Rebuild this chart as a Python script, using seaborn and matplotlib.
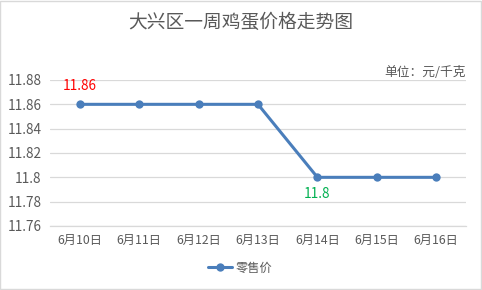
import matplotlib
matplotlib.use("Agg")
import matplotlib.pyplot as plt
import seaborn as sns
import pandas as pd
from matplotlib.lines import Line2D
from matplotlib.patches import Rectangle

categories = ["6月10日", "6月11日", "6月12日", "6月13日", "6月14日", "6月15日", "6月16日"]
prices = [11.86, 11.86, 11.86, 11.86, 11.80, 11.80, 11.80]
y_ticks = [11.76, 11.78, 11.80, 11.82, 11.84, 11.86, 11.88]
y_tick_labels = ["11.76", "11.78", "11.8", "11.82", "11.84", "11.86", "11.88"]
series_name = "零售价"
title = "大兴区一周鸡蛋价格走势图"
unit = "单位：元/千克"

sns.set_theme(style="white")
plt.rcParams["font.family"] = ["Noto Sans CJK SC", "DejaVu Sans"]

line_color = "#4A7EBB"
text_color = "#595959"
grid_color = "#D9D9D9"

df = pd.DataFrame({"date": categories, "price": prices})

fig = plt.figure(figsize=(4.82, 2.90), dpi=100)
ax = fig.add_axes([50 / 482, 1 - 226 / 290, 416 / 482, 146 / 290])

sns.lineplot(data=df, x="date", y="price", ax=ax, color=line_color, linewidth=2.2,
             marker="o", markersize=6, markeredgewidth=0, sort=False)

ax.set_xlim(-0.5, len(categories) - 0.5)
ax.set_ylim(y_ticks[0], y_ticks[-1])
ax.set_yticks(y_ticks)
ax.set_yticklabels(y_tick_labels)
ax.set_xticks(range(len(categories)))
ax.set_xticklabels(categories)
ax.set_xticks([i - 0.5 for i in range(len(categories) + 1)], minor=True)
ax.tick_params(axis="x", which="major", length=0, pad=6, labelsize=8.8, colors=text_color)
ax.tick_params(axis="x", which="minor", length=4, width=0.8, color=grid_color, direction="out")
ax.tick_params(axis="y", length=0, pad=6, labelsize=9.8, colors=text_color)
ax.set_xlabel("")
ax.set_ylabel("")
ax.grid(axis="y", color=grid_color, linewidth=0.9)
ax.set_axisbelow(True)
for s in ["left", "right", "top"]:
    ax.spines[s].set_visible(False)
ax.spines["bottom"].set_color(grid_color)
ax.spines["bottom"].set_linewidth(0.9)

ax.annotate(f"{prices[0]:g}", (0, prices[0]), xytext=(0, 13), textcoords="offset points",
            ha="center", va="center", color="#FF0000", fontsize=9.8)
ax.annotate(f"{prices[4]:g}", (4, prices[4]), xytext=(0, -12), textcoords="offset points",
            ha="center", va="center", color="#00B050", fontsize=9.8)

fig.text(0.5, 1 - 22 / 290, title, ha="center", va="center", fontsize=13.5, color=text_color)
fig.text(466 / 482, 1 - 72 / 290, unit, ha="right", va="center", fontsize=9.2, color=text_color)

handle = Line2D([0], [0], color=line_color, linewidth=2.2, marker="o", markersize=6, markeredgewidth=0)
fig.legend([handle], [series_name], loc="center", bbox_to_anchor=(240 / 482, 1 - 268 / 290),
           frameon=False, fontsize=8.8, labelcolor=text_color, handlelength=2.0, handletextpad=0.3)

fig.add_artist(Rectangle((0.001, 0.002), 0.997, 0.995, transform=fig.transFigure,
                         fill=False, edgecolor=grid_color, linewidth=1))

fig.savefig("out.png", dpi=100, facecolor="white")
